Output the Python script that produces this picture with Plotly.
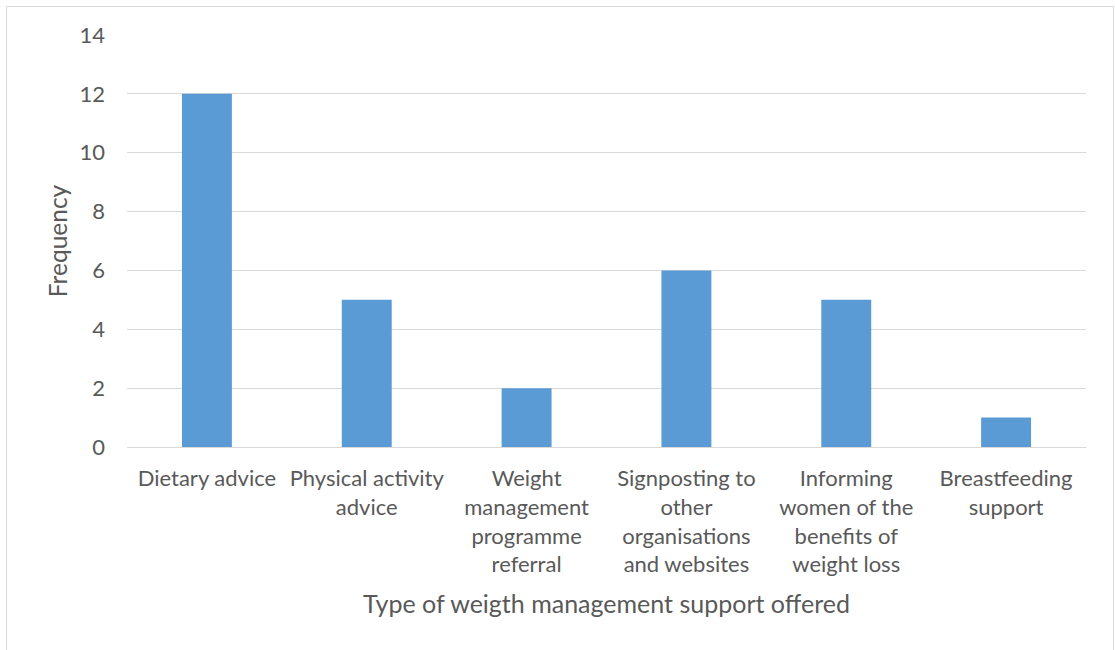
import plotly.graph_objects as go

categories = [
    "Dietary advice",
    "Physical activity<br>advice",
    "Weight<br>management<br>programme<br>referral",
    "Signposting to<br>other<br>organisations<br>and websites",
    "Informing<br>women of the<br>benefits of<br>weight loss",
    "Breastfeeding<br>support",
]
frequency = [12, 5, 2, 6, 5, 1]
y_ticks = [0, 2, 4, 6, 8, 10, 12, 14]

FONT = "Lato, Carlito, Calibri, sans-serif"
GREY = "#595959"

fig = go.Figure(
    go.Bar(
        x=list(range(len(categories))),
        y=frequency,
        marker=dict(color="#5B9BD5", line=dict(width=0)),
        width=0.3125,
    )
)

fig.update_layout(
    width=1115,
    height=650,
    margin=dict(l=127, r=29, t=35, b=203),
    paper_bgcolor="white",
    plot_bgcolor="white",
    showlegend=False,
    font=dict(family=FONT, color=GREY, size=22),
    xaxis=dict(
        tickmode="array",
        tickvals=list(range(len(categories))),
        ticktext=categories,
        range=[-0.5, len(categories) - 0.5],
        showgrid=False,
        showline=True,
        linecolor="#D9D9D9",
        linewidth=1,
        ticks="",
        tickfont=dict(size=22, family=FONT, color=GREY),
        ticklabelstandoff=12,
        title=dict(
            text="Type of weigth management support offered",
            font=dict(size=25, family=FONT, color=GREY),
            standoff=19,
        ),
        fixedrange=True,
    ),
    yaxis=dict(
        range=[0, 14],
        tickmode="array",
        tickvals=y_ticks,
        showgrid=True,
        gridcolor="#D9D9D9",
        gridwidth=1,
        zeroline=False,
        showline=False,
        ticks="",
        tickfont=dict(size=22, family=FONT, color=GREY),
        ticklabelstandoff=21,
        title=dict(
            text="Frequency",
            font=dict(size=24.5, family=FONT, color=GREY),
            standoff=4,
        ),
        fixedrange=True,
    ),
    shapes=[
        dict(
            type="rect",
            xref="paper",
            yref="paper",
            x0=(6.5 - 127) / 959,
            x1=(1113.5 - 127) / 959,
            y0=(447 - 700) / 412,
            y1=(447 - 6.5) / 412,
            line=dict(color="#D9D9D9", width=1),
            fillcolor="rgba(0,0,0,0)",
            layer="below",
        )
    ],
)

fig.write_html("out.html")
